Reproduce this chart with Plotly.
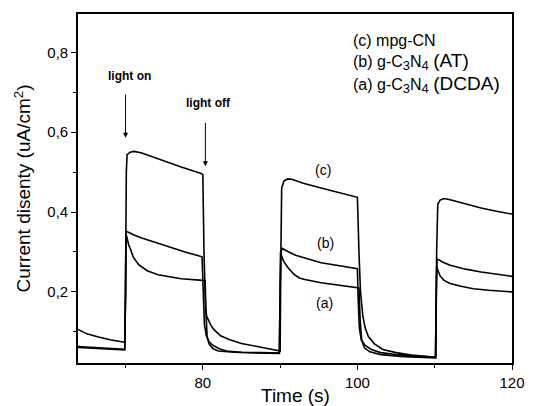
import plotly.graph_objects as go

# ---- data ----
t_c = [63.85, 65, 66.5, 68, 69.9, 70.0, 70.1, 70.2, 70.6, 71.1, 72.1, 74.2, 77.2, 79.7, 80.0,
       80.15, 80.35, 80.5, 81.0, 81.4, 82.3, 83.4, 85, 86.9, 88.5, 90.0,
       90.1, 90.2, 90.5, 91.0, 91.5, 93, 95.3, 97.5, 100.0,
       100.2, 100.4, 100.7, 101.0, 101.4, 102.2, 103.3, 105, 107, 110.15,
       110.25, 110.4, 110.7, 111.2, 112, 114, 116, 118, 120]
v_c = [0.106, 0.095, 0.087, 0.080, 0.074, 0.20, 0.50, 0.544, 0.550, 0.552, 0.548, 0.533, 0.513, 0.497, 0.494,
       0.30, 0.16, 0.139, 0.118, 0.106, 0.090, 0.081, 0.071, 0.064, 0.057, 0.052,
       0.30, 0.46, 0.478, 0.483, 0.482, 0.472, 0.460, 0.449, 0.437,
       0.30, 0.20, 0.14, 0.11, 0.089, 0.070, 0.056, 0.048, 0.042, 0.036,
       0.30, 0.42, 0.430, 0.434, 0.431, 0.420, 0.410, 0.402, 0.395]

t_b = [63.85, 66, 68, 69.9, 70.0, 70.05, 70.3, 71.0, 72.1, 73.8, 75.5, 77.7, 79.9,
       80.05, 80.2, 80.45, 80.8, 81.4, 82.2, 83.1, 85, 87.5, 89.9,
       90.0, 90.1, 90.3, 90.8, 92, 93.5, 95.3, 97.5, 100.0,
       100.1, 100.25, 100.5, 101, 101.8, 103, 105, 107.5, 110.1,
       110.2, 110.3, 110.5, 111, 112, 114, 116, 118, 120]
v_b = [0.063, 0.060, 0.058, 0.056, 0.20, 0.352, 0.350, 0.343, 0.335, 0.324, 0.314, 0.300, 0.288,
       0.20, 0.12, 0.090, 0.075, 0.065, 0.057, 0.052, 0.049, 0.048, 0.047,
       0.20, 0.300, 0.309, 0.303, 0.292, 0.283, 0.273, 0.266, 0.258,
       0.18, 0.11, 0.080, 0.066, 0.056, 0.048, 0.043, 0.039, 0.036,
       0.20, 0.283, 0.281, 0.275, 0.267, 0.257, 0.250, 0.244, 0.239]

t_a = [63.85, 66, 68, 69.9, 70.0, 70.05, 70.2, 70.4, 70.66, 71.0, 71.7, 72.8, 74.2, 77.2, 80.0,
       80.3, 80.4, 80.55, 80.8, 81.3, 82, 84, 87, 89.9,
       90.0, 90.05, 90.2, 90.5, 91.05, 91.8, 92.5, 93.2, 95.3, 97.5, 99.9,
       100.2, 100.35, 100.55, 100.9, 101.6, 103, 106, 110.1,
       110.2, 110.25, 110.4, 110.7, 111.2, 112, 113.4, 115, 117, 120]
v_a = [0.061, 0.059, 0.057, 0.055, 0.20, 0.345, 0.335, 0.318, 0.306, 0.287, 0.268, 0.253, 0.243, 0.233, 0.229,
       0.228, 0.15, 0.090, 0.070, 0.058, 0.052, 0.049, 0.047, 0.046,
       0.20, 0.300, 0.290, 0.275, 0.260, 0.244, 0.235, 0.231, 0.223, 0.217, 0.212,
       0.210, 0.13, 0.080, 0.060, 0.050, 0.043, 0.038, 0.035,
       0.20, 0.265, 0.255, 0.240, 0.229, 0.221, 0.214, 0.208, 0.204, 0.200]

x_ticks = [80, 100, 120]
y_ticks = [0.2, 0.4, 0.6, 0.8]

curve_labels = ["(c)", "(b)", "(a)"]
curve_label_x = [95.6, 95.9, 95.8]
curve_label_y = [0.506, 0.323, 0.172]

SUB = '<sub><span style="font-size:13px">{}</span></sub>'
BIG = '<span style="font-size:19px">{}</span>'
legend_texts = [
    "(c) mpg-CN",
    "(b) g-C" + SUB.format("3") + "N" + SUB.format("4") + " " + BIG.format("(AT)"),
    "(a) g-C" + SUB.format("3") + "N" + SUB.format("4") + " " + BIG.format("(DCDA)"),
]
legend_y = [0.924, 0.864, 0.797]

FONT = "Liberation Sans, Arial, sans-serif"

fig = go.Figure()
for t, v, name in [(t_a, v_a, "a"), (t_b, v_b, "b"), (t_c, v_c, "c")]:
    fig.add_trace(go.Scatter(x=t, y=v, mode="lines", name=name,
                             line=dict(color="black", width=1.6), showlegend=False))

annotations = []
for txt, x, y in zip(curve_labels, curve_label_x, curve_label_y):
    annotations.append(dict(x=x, y=y, xref="x", yref="y", text=txt, showarrow=False,
                            font=dict(size=14, color="black", family=FONT)))

for txt, py in zip(legend_texts, legend_y):
    annotations.append(dict(x=0.630, y=py, xref="paper", yref="paper", text=txt, showarrow=False,
                            xanchor="left", yanchor="middle",
                            font=dict(size=16, color="black", family=FONT)))

# light on / off
annotations.append(dict(x=70.57, y=0.740, xref="x", yref="y", text="<b>light on</b>", showarrow=False,
                        font=dict(size=12, color="black", family=FONT)))
annotations.append(dict(x=70.0, y=0.586, ax=70.0, ay=0.698, xref="x", yref="y", axref="x", ayref="y",
                        text="", showarrow=True, arrowhead=2, arrowsize=1, arrowwidth=1, arrowcolor="black"))
annotations.append(dict(x=80.76, y=0.673, xref="x", yref="y", text="<b>light off</b>", showarrow=False,
                        font=dict(size=12, color="black", family=FONT)))
annotations.append(dict(x=80.33, y=0.515, ax=80.33, ay=0.627, xref="x", yref="y", axref="x", ayref="y",
                        text="", showarrow=True, arrowhead=2, arrowsize=1, arrowwidth=1, arrowcolor="black"))

# axis titles
annotations.append(dict(x=0.5, y=0, xref="paper", yref="paper", text="Time (s)", showarrow=False,
                        xanchor="center", yanchor="middle", yshift=-32,
                        font=dict(size=19, color="black", family=FONT)))
annotations.append(dict(x=0, y=0.5, xref="paper", yref="paper", text="Current disenty (uA/cm<sup>2</sup>)",
                        showarrow=False, textangle=-90, xanchor="center", yanchor="middle", xshift=-56,
                        font=dict(size=19, color="black", family=FONT)))

fig.update_layout(
    width=537, height=406,
    margin=dict(l=78, r=14, t=14, b=43),
    paper_bgcolor="white", plot_bgcolor="white",
    separators=",.",
    font=dict(family=FONT, color="black", size=15),
    annotations=annotations,
)
fig.update_xaxes(range=[63.85, 120], tickvals=x_ticks, ticks="outside", ticklen=5, tickwidth=1.3,
                 tickcolor="black", showline=True, linecolor="black", linewidth=1.6, mirror=True,
                 showgrid=False, zeroline=False, tickfont=dict(size=15),
                 minor=dict(dtick=10, tick0=0, ticks="outside", ticklen=3, tickcolor="black", showgrid=False))
fig.update_yaxes(range=[0.022, 0.896], tickvals=y_ticks, ticks="outside", ticklen=5, tickwidth=1.3,
                 tickcolor="black", showline=True, linecolor="black", linewidth=1.6, mirror=True,
                 showgrid=False, zeroline=False, tickfont=dict(size=15),
                 minor=dict(dtick=0.1, tick0=0, ticks="outside", ticklen=3, tickcolor="black", showgrid=False))

fig.write_html("out.html")
